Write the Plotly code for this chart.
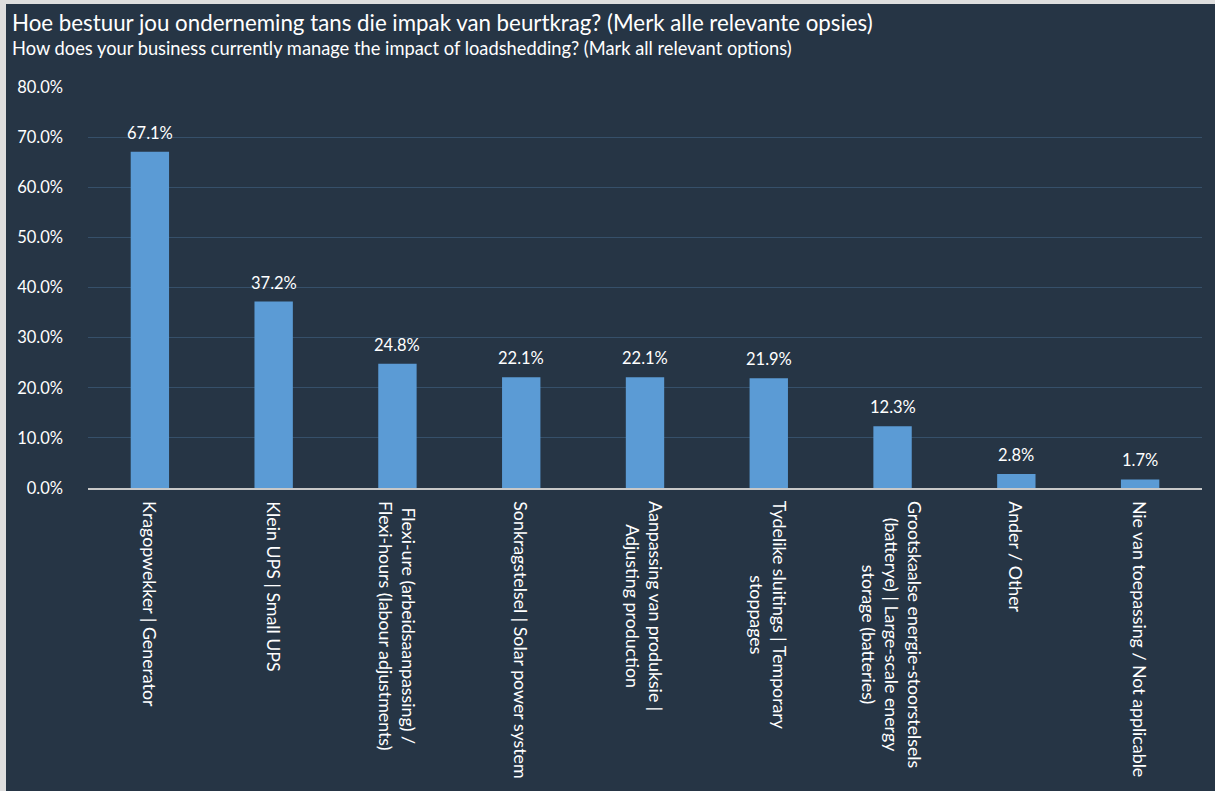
import plotly.graph_objects as go

# Survey responses: share of businesses using each load-shedding measure
categories = [
    "Kragopwekker | Generator",
    "Klein UPS | Small UPS",
    "Flexi-ure (arbeidsaanpassing) /<br>Flexi-hours (labour adjustments)",
    "Sonkragstelsel | Solar power system",
    "Aanpassing van produksie |<br>Adjusting production",
    "Tydelike sluitings | Temporary<br>stoppages",
    "Grootskaalse energie-stoorstelsels<br>(batterye) | Large-scale energy<br>storage (batteries)",
    "Ander / Other",
    "Nie van toepassing / Not applicable",
]
values = [67.1, 37.2, 24.8, 22.1, 22.1, 21.9, 12.3, 2.8, 1.7]
y_ticks = [0, 10, 20, 30, 40, 50, 60, 70, 80]

title_af = "Hoe bestuur jou onderneming tans die impak van beurtkrag? (Merk alle relevante opsies)"
title_en = "How does your business currently manage the impact of loadshedding? (Mark all relevant options)"

W, H = 1215, 791
ML, MR, MT, MB = 88, 13, 87, 303
PW, PH = W - ML - MR, H - MT - MB

BG = "#263545"
BAR = "#5B9BD5"
GRID = "#36506a"
FONT = "Lato, 'Open Sans', sans-serif"


def px_x(px):
    return (px - ML) / PW


def px_y(py):
    return 1 - (py - MT) / PH


fig = go.Figure(
    go.Bar(
        x=categories,
        y=values,
        marker=dict(color=BAR, line=dict(width=0)),
        width=0.31,
        hoverinfo="skip",
    )
)

annotations = []
# value labels above each bar
for c, v in zip(categories, values):
    annotations.append(dict(
        x=c, y=v, xref="x", yref="y", text=f"{v:.1f}%", showarrow=False,
        yanchor="bottom", xanchor="center", yshift=7,
        font=dict(family=FONT, size=16.5, color="#ffffff"),
    ))
# rotated category labels under the axis
for c in categories:
    annotations.append(dict(
        x=c, y=0, xref="x", yref="y", text=c, showarrow=False,
        textangle=90, yanchor="top", xanchor="center", yshift=-11,
        align="center",
        font=dict(family=FONT, size=17.8, color="#ffffff"),
    ))
# titles
annotations.append(dict(
    x=px_x(10), y=px_y(23), xref="paper", yref="paper", text=title_af,
    showarrow=False, xanchor="left", yanchor="middle",
    font=dict(family=FONT, size=22.3, color="#ffffff"),
))
annotations.append(dict(
    x=px_x(10), y=px_y(48), xref="paper", yref="paper", text=title_en,
    showarrow=False, xanchor="left", yanchor="middle",
    font=dict(family=FONT, size=18.3, color="#ffffff"),
))

shapes = [
    # light frame along the top and left edges
    dict(type="rect", xref="paper", yref="paper", layer="above",
         x0=px_x(0), x1=px_x(W), y0=px_y(0), y1=px_y(4),
         fillcolor="#dedede", line=dict(width=0)),
    dict(type="rect", xref="paper", yref="paper", layer="above",
         x0=px_x(0), x1=px_x(6), y0=px_y(0), y1=px_y(H),
         fillcolor="#dedede", line=dict(width=0)),
]

fig.update_layout(
    width=W, height=H,
    margin=dict(l=ML, r=MR, t=MT, b=MB, pad=0),
    paper_bgcolor=BG, plot_bgcolor=BG,
    showlegend=False,
    bargap=0.69,
    annotations=annotations,
    shapes=shapes,
    font=dict(family=FONT, color="#ffffff", size=16),
    xaxis=dict(
        showticklabels=False, ticks="", showgrid=False,
        showline=True, linecolor="#c8c8c8", linewidth=1.5,
        fixedrange=True,
    ),
    yaxis=dict(
        range=[0, 80], tickvals=y_ticks,
        ticktext=[f"{t:.1f}%" for t in y_ticks],
        showgrid=True, gridcolor=GRID, gridwidth=1,
        zeroline=False, showline=False, ticks="",
        ticklabelstandoff=24,
        tickfont=dict(family=FONT, size=16.5, color="#ffffff"),
        fixedrange=True,
    ),
)

fig.write_html("out.html")
